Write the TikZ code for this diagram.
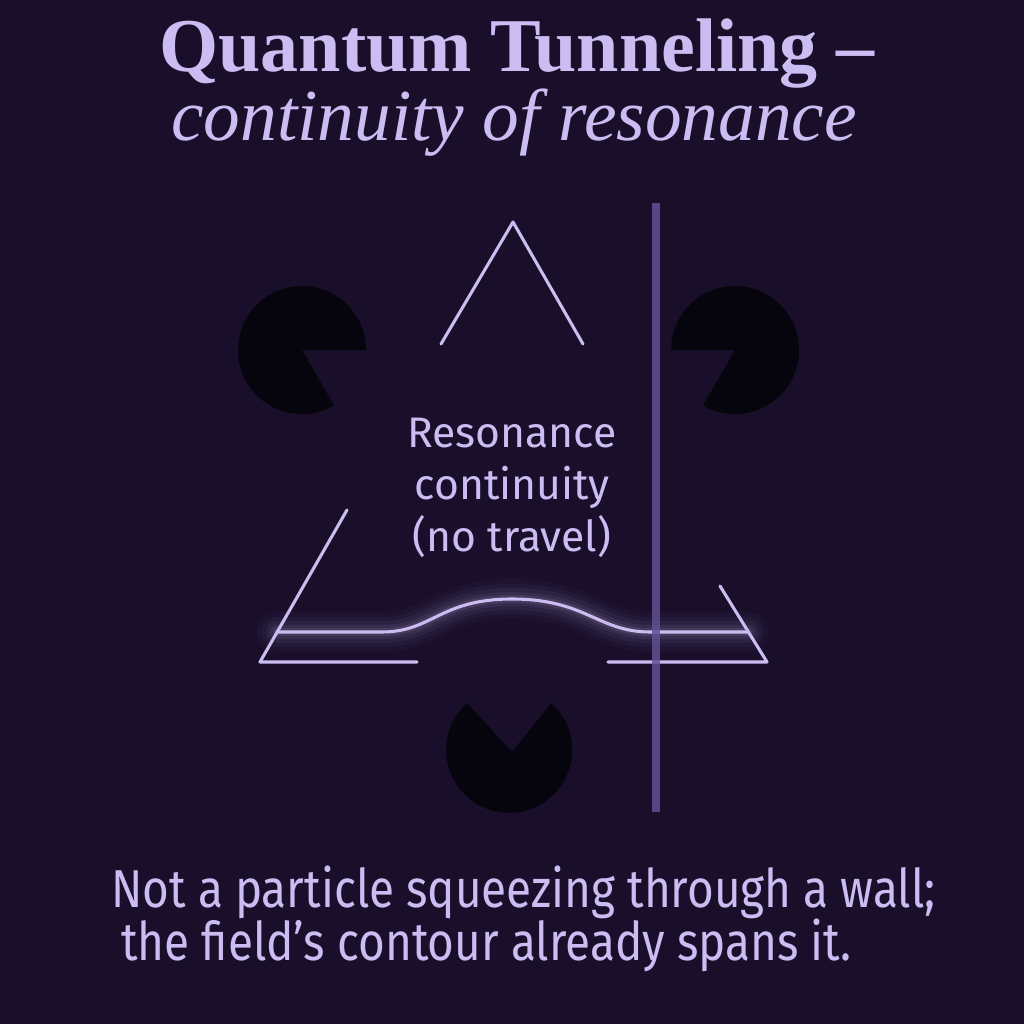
\documentclass[tikz,border=0pt]{standalone}
\usepackage{fontspec}
\setmainfont{Liberation Serif}
\newfontfamily\labelfont{Fira Sans}
\newfontfamily\notefont[FakeStretch=0.86]{Fira Sans}
\usepackage{tikz}

\definecolor{bgpurple}{RGB}{25,15,43}
\definecolor{lavender}{RGB}{203,188,242}
\definecolor{wallpurple}{RGB}{98,80,150}
\definecolor{pacblack}{RGB}{6,4,12}

\begin{document}
\begin{tikzpicture}[x=0.75pt,y=0.75pt,yscale=-1,xscale=1,
    contour/.style={draw=lavender, line width=2.3pt, line cap=round, line join=round},
    glow/.style={draw=lavender, line cap=round, line join=round},
    pac/.style={fill=pacblack},
    txt/.style={text=lavender, inner sep=0.75pt}]

            % Background
            \fill[bgpurple] (0,0) rectangle (1024,1024);
            \useasboundingbox (0,0) rectangle (1024,1024);

            % Title
            \draw (517,72) node [txt, anchor=base] (title) {\fontsize{57}{60}\selectfont\bfseries Quantum Tunneling --};
            \draw (514,140) node [txt, anchor=base] (subtitle) {\fontsize{55}{60}\selectfont\itshape continuity of resonance};

            % Pacmen
            \fill[pac] (302,350) -- ++(60:64) arc [start angle=60, end angle=360, radius=64] -- cycle;
            \fill[pac] (735,350) -- ++(180:64) arc [start angle=180, end angle=480, radius=64] -- cycle;
            \fill[pac] (512,752) -- (467,703) arc [start angle=228, end angle=-48, radius=63] -- cycle;

            % Triangle corners
            \draw[contour] (441,344) -- (513,222) -- (583,344);
            \draw[contour] (347,510) -- (260,662) -- (417,662);
            \draw[contour] (720,586) -- (767,662) -- (608,662);

            % Glow round the wave
            \foreach \w/\o in {40/0.03, 30/0.04, 22/0.05, 14/0.07, 8/0.10}
                \draw[glow, line width=\w*0.75pt, opacity=\o] (277,632) -- (382,632) .. controls (432,632) and (440,599) .. (512,599) .. controls (586,599) and (598,632) .. (650,632) -- (748,632);

            % Wave
            \draw[contour] (277,632) -- (382,632) .. controls (432,632) and (440,599) .. (512,599) .. controls (586,599) and (598,632) .. (650,632) -- (748,632);

            % Wall
            \draw[wallpurple, line width=6pt, opacity=0.85] (656,203) -- (656,812);

            % Middle label
            \draw (512,447) node [txt, anchor=base] (res1) {\labelfont\fontsize{32}{36}\selectfont Resonance};
            \draw (512,499) node [txt, anchor=base] (res2) {\labelfont\fontsize{32}{36}\selectfont continuity};
            \draw (512,551) node [txt, anchor=base] (res3) {\labelfont\fontsize{32}{36}\selectfont (no travel)};

            % Bottom note
            \draw (110,907) node [txt, anchor=base west] (note1) {\notefont\fontsize{40}{44}\selectfont Not a particle squeezing through a wall;};
            \draw (120,960) node [txt, anchor=base west] (note2) {\notefont\fontsize{40}{44}\selectfont the field’s contour already spans it.};

\end{tikzpicture}
\end{document}
